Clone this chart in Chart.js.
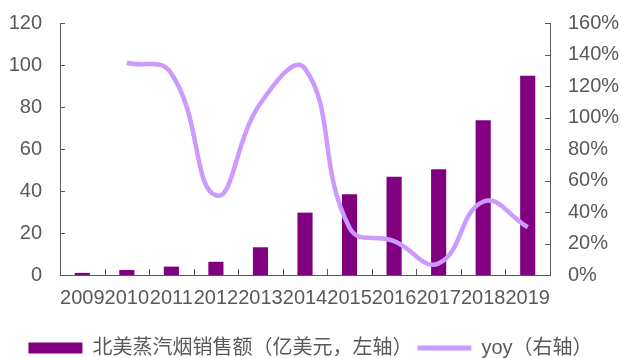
<!DOCTYPE html>
<html>
<head>
<meta charset="utf-8">
<script src="https://cdn.jsdelivr.net/npm/chart.js@4/dist/chart.umd.min.js"></script>
<style>
  html, body { margin: 0; padding: 0; background: #ffffff; }
  #wrap { width: 621px; height: 358px; position: relative; }
</style>
</head>
<body>
<div id="wrap"><canvas id="c"></canvas></div>
<script>
const categories = ['2009', '2010', '2011', '2012', '2013', '2014', '2015', '2016', '2017', '2018', '2019'];
const salesValues = [1.0, 2.4, 4.0, 6.3, 13.2, 29.7, 38.4, 46.8, 50.3, 73.7, 94.9];
const yoyValues = [null, 134.8, 128, 50.5, 109, 131, 30, 21.5, 7.4, 46.5, 30.3];
const leftTicks = [0, 20, 40, 60, 80, 100, 120];
const rightTicks = [0, 20, 40, 60, 80, 100, 120, 140, 160];
const seriesNames = ['北美蒸汽烟销售额（亿美元，左轴）', 'yoy（右轴）'];

const BAR_COLOR = '#800080';
const LINE_COLOR = '#CC99FF';
const TEXT_COLOR = '#595959';
const AXIS_COLOR = '#595959';
const FONT = '"Liberation Sans", "Noto Sans CJK SC", sans-serif';

const innerTicks = {
  id: 'innerTicks',
  afterDraw(chart) {
    const ctx = chart.ctx;
    const area = chart.chartArea;
    const xs = chart.scales.x, yl = chart.scales.y, yr = chart.scales.y1;
    ctx.save();
    ctx.strokeStyle = AXIS_COLOR;
    ctx.lineWidth = 1;
    ctx.beginPath();
    yl.ticks.forEach(t => {
      const y = Math.round(yl.getPixelForValue(t.value)) + 0.5;
      ctx.moveTo(area.left, y); ctx.lineTo(area.left + 5, y);
    });
    yr.ticks.forEach(t => {
      const y = Math.round(yr.getPixelForValue(t.value)) + 0.5;
      ctx.moveTo(area.right - 5, y); ctx.lineTo(area.right, y);
    });
    const step = xs.getPixelForValue(1) - xs.getPixelForValue(0);
    for (let i = 1; i <= categories.length; i++) {
      const x = Math.round(xs.getPixelForValue(i) - step / 2) + 0.5;
      ctx.moveTo(x, area.bottom); ctx.lineTo(x, area.bottom - 6);
    }
    ctx.stroke();
    ctx.restore();
  }
};

function trimVerticalPadding(scale) {
  scale.paddingTop = 0;
  scale.paddingBottom = 0;
}

new Chart(document.getElementById('c'), {
  type: 'bar',
  data: {
    labels: categories,
    datasets: [
      {
        type: 'bar',
        label: seriesNames[0],
        data: salesValues,
        backgroundColor: BAR_COLOR,
        borderWidth: 0,
        yAxisID: 'y',
        barPercentage: 0.34,
        categoryPercentage: 1.0,
        order: 2
      },
      {
        type: 'line',
        label: seriesNames[1],
        data: yoyValues,
        borderColor: LINE_COLOR,
        backgroundColor: LINE_COLOR,
        borderWidth: 4.5,
        pointRadius: 0,
        pointHoverRadius: 0,
        tension: 0.45,
        fill: false,
        yAxisID: 'y1',
        order: 1
      }
    ]
  },
  options: {
    responsive: true,
    maintainAspectRatio: false,
    animation: false,
    layout: { padding: { top: 23, left: 0, right: 0, bottom: -10 } },
    plugins: {
      tooltip: { enabled: false },
      legend: {
        position: 'bottom',
        labels: {
          usePointStyle: true,
          pointStyleWidth: 54,
          boxHeight: 11,
          padding: 5,
          color: TEXT_COLOR,
          font: { family: FONT, size: 20 },
          generateLabels(chart) {
            return chart.data.datasets.map((ds, i) => ({
              text: ds.label,
              datasetIndex: i,
              hidden: false,
              fontColor: TEXT_COLOR,
              fillStyle: i === 0 ? BAR_COLOR : LINE_COLOR,
              strokeStyle: i === 0 ? BAR_COLOR : LINE_COLOR,
              lineWidth: i === 0 ? 0 : 5,
              pointStyle: i === 0 ? 'rect' : 'line'
            }));
          }
        }
      }
    },
    scales: {
      x: {
        offset: true,
        grid: { display: false, drawTicks: false },
        border: { display: true, color: AXIS_COLOR, width: 1 },
        ticks: { color: TEXT_COLOR, font: { family: FONT, size: 20 }, padding: 11, autoSkip: false, maxRotation: 0, minRotation: 0 },
        afterFit(scale) { scale.height = 58; }
      },
      y: {
        position: 'left',
        min: 0, max: 120,
        afterBuildTicks(scale) { scale.ticks = leftTicks.map(v => ({ value: v })); },
        grid: { display: false, drawTicks: false },
        border: { display: true, color: AXIS_COLOR, width: 1 },
        ticks: { color: TEXT_COLOR, font: { family: FONT, size: 20 }, padding: 18 },
        afterFit(scale) { scale.width = 60; trimVerticalPadding(scale); }
      },
      y1: {
        position: 'right',
        min: 0, max: 160,
        afterBuildTicks(scale) { scale.ticks = rightTicks.map(v => ({ value: v })); },
        grid: { display: false, drawTicks: false },
        border: { display: true, color: AXIS_COLOR, width: 1 },
        ticks: { color: TEXT_COLOR, font: { family: FONT, size: 20 }, padding: 18, callback: v => v + '%' },
        afterFit(scale) { scale.width = 71; trimVerticalPadding(scale); }
      }
    }
  },
  plugins: [innerTicks]
});
</script>
</body>
</html>
